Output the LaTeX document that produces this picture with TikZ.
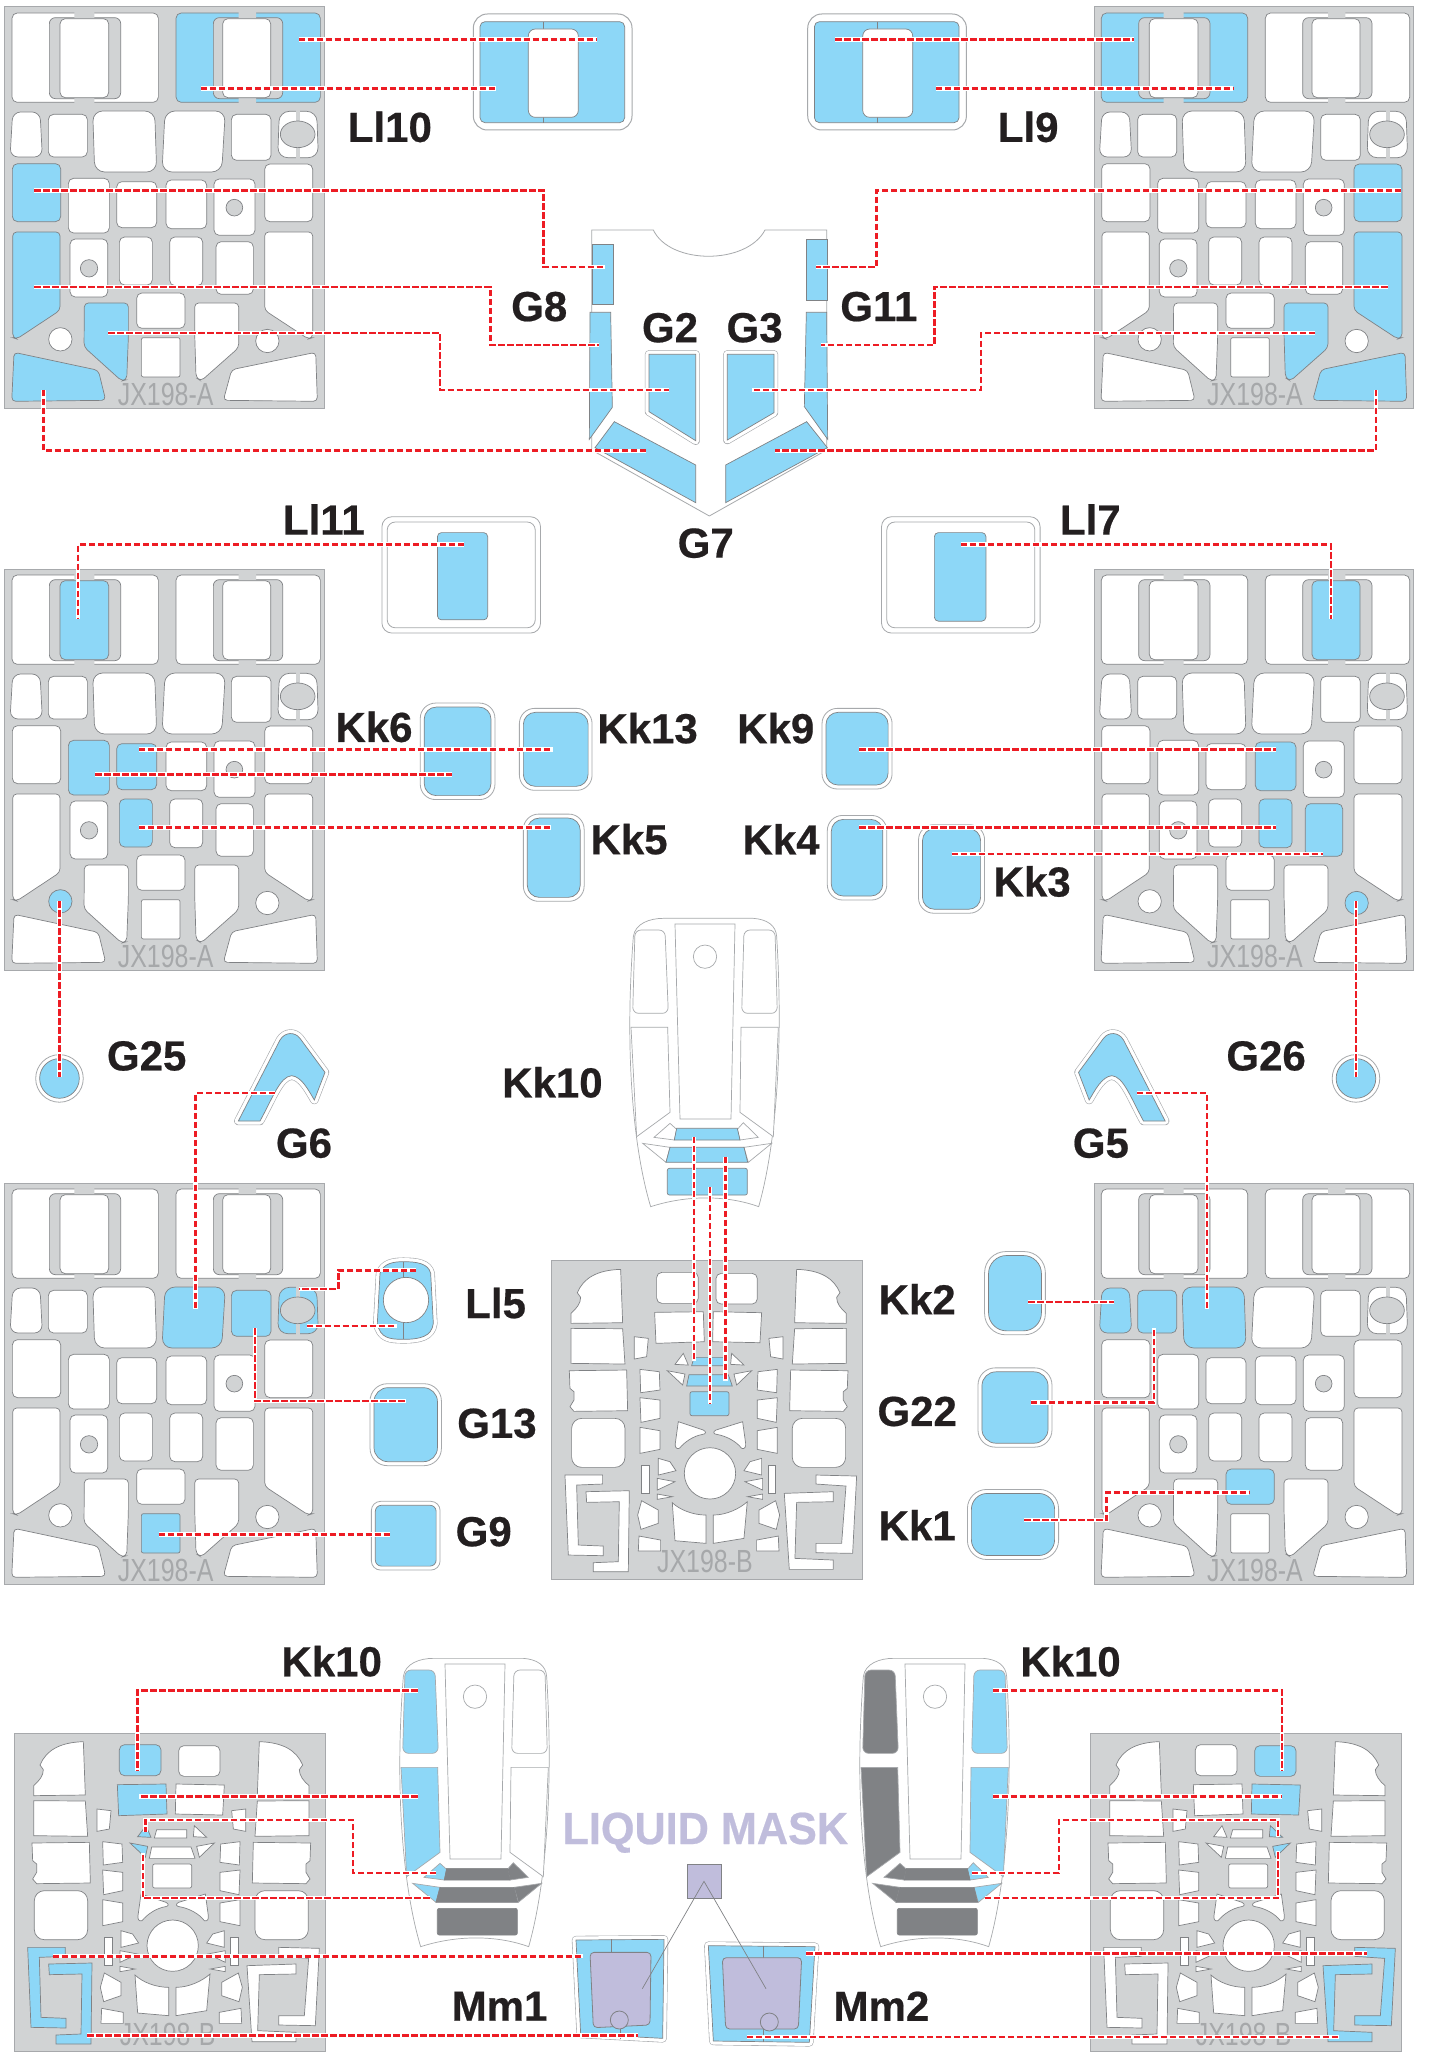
\documentclass[tikz,border=0pt]{standalone}
\usepackage{fontspec}
\setmainfont{Liberation Sans}
\newfontfamily\labfont[BoldFeatures={FakeBold=0.5}]{Liberation Sans}
\definecolor{mblue}{HTML}{8DD7F7}
\definecolor{mplate}{HTML}{D1D3D4}
\definecolor{mwin}{HTML}{808285}
\definecolor{mlight}{HTML}{A7A9AC}
\definecolor{mdark}{HTML}{808285}
\definecolor{mlav}{HTML}{C0BDDC}
\definecolor{mred}{HTML}{ED1C24}
\definecolor{mtext}{HTML}{231F20}
\tikzset{
  win/.style={fill=white,draw=mwin,line width=.35pt},
  bl/.style={fill=mblue},
  dk/.style={fill=mdark},
  plate/.style={fill=mplate,draw=mlight,line width=.5pt},
  gband/.style={fill=mplate,draw=mwin,line width=.35pt},
  cwin/.style={fill=white,draw=mlight,line width=.35pt},
  mout/.style={fill=white,draw=mlight,line width=.4pt},
  min/.style={fill=mblue,draw=mwin,line width=.35pt},
  lav/.style={fill=mlav,draw=mwin,line width=.4pt},
  thinl/.style={draw=mwin,line width=.35pt},
  chalo/.style={draw=white,line width=2.2pt,line join=miter},
  cred/.style={draw=mred,line width=1.25pt,dash pattern=on 3.2pt off 1.3pt,line join=miter},
  lab/.style={font=\labfont\bfseries\fontsize{21}{21}\selectfont,text=mtext,inner sep=0pt},
  jxt/.style={font=\fontsize{16}{16}\selectfont,text=mwin!70,xscale=.78,inner sep=0pt},
  % plate A windows
  wo1/.style={},wo2/.style={},wi1/.style={},wi2/.style={},
  wr1/.style={},wr2/.style={},wr3/.style={},wr4/.style={},wr5/.style={},wr6/.style={},
  ws1/.style={},ws2/.style={},ws3/.style={},ws4/.style={},ws5/.style={},ws6/.style={},
  wt1/.style={},wt2/.style={},wt3/.style={},wt4/.style={},wt5/.style={},wt6/.style={},
  wu1/.style={},wu2/.style={},wb1/.style={},wb2/.style={},wc1/.style={},wc2/.style={},wd1/.style={},wd2/.style={},
  % plate B windows
  bC1/.style={},bC2/.style={},bC3/.style={},bC4/.style={},
  bH1/.style={},bH2/.style={},bH3/.style={},bH4/.style={},
  bJ1/.style={},bJ2/.style={},bJ3/.style={},
  bB5/.style={},bB6/.style={},bB7/.style={},bB8/.style={},
  % canopy windows
  kTL/.style={},kTR/.style={},kLL/.style={},kLR/.style={},kL1/.style={},kR1/.style={},kL2/.style={},kR2/.style={},kP1/.style={},kP2/.style={},kP3/.style={},
}
\newcommand\RW[5]{\draw[win,#1,rounded corners=2.6pt] (#2,#3) rectangle (#4,#5);}
\newcommand\PlateA[4][JX198-A]{%
\begin{scope}[shift={(#2-4.67,#3-6.67)},scale=1/3,#4]
  \draw[plate] (14,20) rectangle (972,1225);
  \RW{wo1}{36}{38}{475}{306}
  \RW{wo2}{528}{38}{961}{306}
  \draw[gband,rounded corners=3pt] (148,52) rectangle (362,295);
  \draw[gband,rounded corners=3pt] (640,52) rectangle (848,295);
  \fill[mplate] (223,30) rectangle (283,60) (223,288) rectangle (283,312) (716,30) rectangle (768,60) (716,288) rectangle (768,312);
  \RW{wi1}{180}{55}{326}{292}
  \RW{wi2}{668}{55}{812}{292}
  \draw[win,wr1,rounded corners=4pt] (38,335)--(120,335)--(127,470)--(30,470)--cycle;
  \RW{wr2}{145}{342}{262}{470}
  \draw[win,wr3,rounded corners=5pt] (278,332)--(464,332)--(470,515)--(284,515)--cycle;
  \draw[win,wr4,rounded corners=5pt] (495,332)--(676,332)--(665,515)--(486,515)--cycle;
  \RW{wr5}{694}{342}{813}{480}
  \draw[win,wr6,rounded corners=5pt] (838,333)--(950,333)--(955,472)--(833,472)--cycle;
  \fill[mplate] (889,328) rectangle (901,478);
  \draw[gband] (893,402) ellipse [x radius=52,y radius=40];
  \RW{ws1}{37}{490}{182}{664}
  \RW{ws2}{205}{534}{328}{698}
  \RW{ws3}{350}{544}{470}{682}
  \RW{ws4}{498}{539}{620}{685}
  \RW{ws5}{642}{536}{765}{705}
  \draw[gband] (703,622) circle [radius=25];
  \RW{ws6}{794}{491}{938}{664}
  \draw[win,wt1,rounded corners=2pt] (38,695)--(180,695)--(180,930)--(50,1016)--(38,1012)--cycle;
  \RW{wt2}{210}{716}{323}{890}
  \draw[gband] (267,804) circle [radius=26];
  \RW{wt3}{358}{710}{457}{854}
  \RW{wt4}{509}{710}{608}{856}
  \RW{wt5}{648}{724}{760}{882}
  \draw[win,wt6,rounded corners=2pt] (794,695)--(938,695)--(938,1012)--(925,1016)--(794,930)--cycle;
  \RW{wu1}{410}{878}{555}{984}
  \draw[win,wu2,rounded corners=1pt] (424,1012) rectangle (540,1130);
  \draw[win,wb1,rounded corners=2pt] (253,908)--(385,908)--(385,1010)--(380,1138)--(365,1142)--(252,1040)--cycle;
  \draw[win,wb2,rounded corners=2pt] (584,908)--(716,908)--(716,1042)--(603,1142)--(588,1132)--(584,1000)--cycle;
  \draw[win,wc1] (181,1017) circle [radius=35];
  \draw[win,wc2] (802,1022) circle [radius=35];
  \draw[win,wd1,rounded corners=2pt] (42,1056)--(295,1110)--(317,1200)--(35,1203)--cycle;
  \draw[win,wd2,rounded corners=2pt] (947,1056)--(695,1108)--(670,1200)--(952,1203)--cycle;
  \node[jxt] at (497,1181) {#1};
\end{scope}}
\newcommand\BOuter{%
  \draw[win] (93,250)--(93,220) .. controls (110,205) and (122,190) .. (122,172) -- (112,158) .. controls (130,115) and (170,90) .. (242,88) -- (248,248) -- cycle;
  \draw[win] (93,265)--(248,266)--(255,372)--(93,370)--cycle;
  \draw[win] (88,392)--(260,390)--(263,512)--(102,514)--(90,500)--(102,480)--(102,455)--(90,445)--cycle;
  \draw[win,rounded corners=5pt] (255,535)--(95,535)--(95,682)--(255,682)--cycle;
  \draw[win] (283,290)--(325,295)--(320,350)--(283,357)--cycle;
  \draw[win] (300,388)--(358,395)--(360,450)--(302,458)--cycle;
  \draw[win] (300,473)--(360,480)--(360,535)--(303,547)--cycle;
  \draw[win] (300,562)--(360,572)--(360,628)--(300,640)--cycle;
  \draw[win] (305,675)--(328,675)--(328,760)--(305,760)--cycle;
  \draw[win] (305,782)--(355,810)--(355,850)--(303,868)--(293,825)--cycle;
  \draw[win] (297,888)--(362,900)--(362,933)--(295,933)--cycle;
}
\newcommand\BInner{%
  \draw[win] (355,655)--(390,665)--(408,692)--(355,705)--cycle;
  \draw[win] (352,715)--(405,725)--(352,750)--cycle;
  \draw[win] (352,762)--(397,770)--(352,778)--cycle;
}
\newcommand\PlateB[4][JX198-B]{%
\begin{scope}[shift={(#2-11.33,#3-20.67)},scale=1/3,#4]
  \draw[plate] (34,62) rectangle (968,1018);
  \BOuter\BInner
  \begin{scope}[shift={(1012,0)},xscale=-1]\BOuter\end{scope}
  \begin{scope}[shift={(1020,0)},xscale=-1]\BInner\end{scope}
  \RW{bC1}{350}{97}{475}{190}
  \RW{bC2}{528}{100}{652}{192}
  \draw[win,bC3] (344,217)--(490,215)--(493,305)--(348,310)--cycle;
  \draw[win,bC4] (520,215)--(665,218)--(660,308)--(518,305)--cycle;
  \draw[win,bH1] (430,340)--(445,375)--(405,373)--cycle;
  \draw[win,bH2] (575,340)--(612,375)--(572,373)--cycle;
  \draw[win,bH3] (382,392)--(435,402)--(428,435)--cycle;
  \draw[win,bH4] (635,392)--(582,402)--(590,435)--cycle;
  \draw[win,bJ1] (462,352)--(552,352)--(552,377)--(455,377)--cycle;
  \draw[win,bJ2] (447,404)--(565,404)--(577,438)--(440,438)--cycle;
  \draw[win,bJ3,rounded corners=1pt] (450,455) rectangle (567,527);
  \draw[win] (415,545) -- (490,570) .. controls (500,575) and (498,582) .. (488,583) .. controls (460,588) and (435,605) .. (418,625) .. controls (408,628) and (405,620) .. (406,610) -- cycle;
  \draw[win] (608,545) -- (528,570) .. controls (518,575) and (520,582) .. (530,583) .. controls (560,588) and (590,605) .. (605,625) .. controls (615,628) and (618,620) .. (617,610) -- cycle;
  \draw[win] (510,700) circle [radius=77];
  \draw[win] (397,788) .. controls (420,810) and (460,825) .. (498,825) -- (498,910) -- (405,902) -- cycle;
  \draw[win] (622,785) .. controls (600,805) and (560,825) .. (520,825) -- (520,910) -- (612,895) -- cycle;
  \draw[win,bB5] (75,705)--(188,705)--(188,732)--(110,735)--(115,915)--(190,918)--(190,947)--(85,945)--cycle;
  \draw[win,bB6] (138,755)--(268,752)--(265,995)--(160,995)--(160,968)--(235,965)--(238,785)--(140,787)--cycle;
  \draw[win,bB7] (828,705)--(950,708)--(938,940)--(828,938)--(828,910)--(905,910)--(918,738)--(828,732)--cycle;
  \draw[win,bB8] (733,760)--(880,755)--(880,785)--(770,787)--(765,955)--(880,960)--(880,988)--(748,988)--cycle;
  \node[jxt] at (495,965) {#1};
\end{scope}}
\newcommand\Canopy[3]{%
\begin{scope}[shift={(#1,#2)},scale=1/3,#3]
  \draw[cwin] (40,80) .. controls (45,40) and (90,25) .. (130,25) -- (400,25) .. controls (440,28) and (468,45) .. (470,80) .. controls (490,400) and (470,700) .. (416,890) .. controls (320,855) and (200,855) .. (92,890) .. controls (35,700) and (15,400) .. (40,80) -- cycle;
  \draw[cwin] (165,42)--(345,42)--(333,627)--(180,627)--cycle;
  \draw[cwin] (255,140) circle [radius=35];
  \draw[cwin,kTL,rounded corners=3pt] (45,60)--(135,60)--(145,310)--(38,310)--cycle;
  \draw[cwin,kTR,rounded corners=3pt] (372,60)--(465,60)--(472,310)--(365,310)--cycle;
  \draw[cwin,kLL] (33,352)--(143,352)--(150,607)--(50,680)--cycle;
  \draw[cwin,kLR] (363,352)--(475,352)--(460,680)--(360,607)--cycle;
  \draw[cwin,kL1] (150,640)--(170,658)--(163,690)--(102,682)--cycle;
  \draw[cwin,kR1] (370,638)--(415,682)--(360,690)--(352,658)--cycle;
  \draw[cwin,kL2] (68,700)--(150,712)--(138,757)--cycle;
  \draw[cwin,kR2] (455,700)--(372,712)--(385,757)--cycle;
  \draw[cwin,draw=mwin,kP1] (170,655)--(352,655)--(360,690)--(163,690)--cycle;
  \draw[cwin,draw=mwin,kP2] (150,712)--(372,712)--(383,757)--(138,757)--cycle;
  \draw[cwin,draw=mwin,kP3,rounded corners=1pt] (142,775) rectangle (382,855);
\end{scope}}
\newcommand\Mask[5]{\draw[mout,rounded corners=#5pt+1.6pt] (#1-3,#2-3) rectangle (#3+3,#4+3);\draw[min,rounded corners=#5pt] (#1,#2) rectangle (#3,#4);}
\newcommand\Halo[1]{\path[draw=mlight,line width=4.2pt,line join=round] #1;\path[draw=white,line width=3.6pt,line join=round] #1;\path[min] #1;}
\newcommand\CTwo[3]{\coordinate (#1a) at (#2);\coordinate (#1b) at (#3);\draw[chalo] (#1a)--(#1b);\draw[cred] (#1a)--(#1b);}
\newcommand\CThree[4]{\coordinate (#1a) at (#2);\coordinate (#1b) at (#3);\coordinate (#1c) at (#4);\draw[chalo] (#1a)--(#1b)--(#1c);\draw[cred] (#1a)--(#1b)--(#1c);}
\newcommand\CFour[5]{\coordinate (#1a) at (#2);\coordinate (#1b) at (#3);\coordinate (#1c) at (#4);\coordinate (#1d) at (#5);\draw[chalo] (#1a)--(#1b)--(#1c)--(#1d);\draw[cred] (#1a)--(#1b)--(#1c)--(#1d);}
\newcommand\CFive[6]{\coordinate (#1a) at (#2);\coordinate (#1b) at (#3);\coordinate (#1c) at (#4);\coordinate (#1d) at (#5);\coordinate (#1e) at (#6);\draw[chalo] (#1a)--(#1b)--(#1c)--(#1d)--(#1e);\draw[cred] (#1a)--(#1b)--(#1c)--(#1d)--(#1e);}
\newcommand\LIpart[1]{%
\begin{scope}[shift={(#1,0)},scale=1/3]
  \draw[mout,line width=.5pt,rounded corners=7pt] (40,42) rectangle (516,390);
  \draw[min,rounded corners=2.5pt] (60,65) rectangle (494,368);
  \draw[thinl] (250,65)--(250,87) (250,352)--(250,368);
  \draw[cwin,draw=mwin,rounded corners=3.5pt] (205,87) rectangle (355,352);
\end{scope}}
\begin{document}
\begin{tikzpicture}[x=0.5pt,y=-0.5pt]
\useasboundingbox (0,0) rectangle (1430,2072);
\fill[white] (0,0) rectangle (1430,2072);

% --- JX198-A plates
\PlateA{4.7}{7}{wo2/.style=bl,ws1/.style=bl,wt1/.style=bl,wb1/.style=bl,wd1/.style=bl}
\PlateA{1094}{7}{wo1/.style=bl,ws6/.style=bl,wt6/.style=bl,wb2/.style=bl,wd2/.style=bl}
\PlateA{4.7}{569}{wi1/.style=bl,ws2/.style=bl,ws3/.style=bl,wt3/.style=bl,wc1/.style=bl}
\PlateA{1094}{569}{wi2/.style=bl,ws4/.style=bl,wt4/.style=bl,wt5/.style=bl,wc2/.style=bl}
\PlateA{4.7}{1183}{wr4/.style=bl,wr5/.style=bl,wr6/.style=bl,wu2/.style=bl}
\PlateA{1094}{1183}{wr1/.style=bl,wr2/.style=bl,wr3/.style=bl,wu1/.style=bl}

% --- JX198-B plates
\PlateB{551.3}{1260.7}{bJ1/.style=bl,bJ2/.style=bl,bJ3/.style=bl}
\PlateB{14}{1733}{bC1/.style=bl,bC3/.style=bl,bH1/.style=bl,bH3/.style=bl,bB5/.style=bl,bB6/.style=bl}
\PlateB{1090}{1733}{bC2/.style=bl,bC4/.style=bl,bH2/.style=bl,bH4/.style=bl,bB7/.style=bl,bB8/.style=bl}

% --- canopies
\Canopy{620}{910}{kP1/.style=bl,kP2/.style=bl,kP3/.style=bl}
\Canopy{390}{1650}{kTL/.style=bl,kLL/.style=bl,kL1/.style=bl,kL2/.style=bl,kR1/.style=dk,kR2/.style=dk,kP1/.style=dk,kP2/.style=dk,kP3/.style=dk}
\Canopy{850}{1650}{kTR/.style=bl,kLR/.style=bl,kR1/.style=bl,kR2/.style=bl,kTL/.style=dk,kLL/.style=dk,kL1/.style=dk,kL2/.style=dk,kP1/.style=dk,kP2/.style=dk,kP3/.style=dk}

% --- top parts
\LIpart{460}
\LIpart{794.4}

% --- G body
\begin{scope}[shift={(580,220)},scale=1/3]
  \draw[cwin,line width=.4pt] (35,30)--(220,30) .. controls (270,135) and (500,135) .. (555,30)--(740,30)--(740,690)--(388,888)--(35,690)--cycle;
  \draw[min] (37,72) rectangle (101,253);
  \draw[min] (30,277)--(92,277)--(97,562)--(28,658)--cycle;
  \draw[min] (679,58) rectangle (743,240);
  \draw[min] (679,277)--(740,277)--(743,658)--(673,560)--cycle;
  \Halo{(207,403)--(347,403)--(347,662)--(207,575)--cycle}
  \Halo{(442,403)--(582,403)--(582,578)--(442,660)--cycle}
  \draw[min] (103,605)--(347,735)--(347,848)--(45,683)--cycle;
  \draw[min] (680,605)--(437,735)--(437,848)--(742,683)--cycle;
\end{scope}

% --- G6 / G5
\begin{scope}[shift={(220,1010)},scale=1/3]
  \Halo{(55,333)--(120,333) .. controls (160,260) and (180,200) .. (215,197) .. controls (245,200) and (265,240) .. (283,270)--(315,187)--(240,85) .. controls (225,65) and (195,65) .. (180,90)--cycle}
\end{scope}
\begin{scope}[shift={(1183.5,1010)},xscale=-1/3,yscale=1/3]
  \Halo{(55,333)--(120,333) .. controls (160,260) and (180,200) .. (215,197) .. controls (245,200) and (265,240) .. (283,270)--(315,187)--(240,85) .. controls (225,65) and (195,65) .. (180,90)--cycle}
\end{scope}

% --- LI5
\begin{scope}[shift={(360,1240)},scale=1/3]
  \Halo{(60,100) .. controls (70,70) and (100,65) .. (130,65) .. controls (170,65) and (205,70) .. (212,100)--(220,250) .. controls (215,290) and (180,298) .. (130,298) .. controls (90,298) and (60,295) .. (52,250)--cycle}
  \draw[thinl] (130,65)--(130,113) (130,248)--(130,298);
  \draw[win] (138,180) circle [radius=68];
\end{scope}

% --- Mm1, Mm2, liquid mask
\begin{scope}[shift={(540,1800)},scale=1/3]
  \Halo{(108,420)--(372,418)--(368,715)--(122,702)--cycle}
  \draw[thinl] (214,418)--(214,457) (240,688)--(240,716);
  \draw[lav,rounded corners=2pt] (150,457)--(333,457)--(330,675)--(160,683)--cycle;
  \draw[lav] (238,660) circle [radius=27];
  \Halo{(505,437)--(825,440)--(808,727)--(520,723)--cycle}
  \draw[thinl] (671,437)--(671,473) (671,687)--(671,725);
  \draw[lav,rounded corners=2pt] (547,473)--(785,473)--(775,687)--(557,687)--cycle;
  \draw[lav] (688,666) circle [radius=27];
  \draw[lav] (443,194) rectangle (543,294);
  \coordinate (apex) at (492,244);
  \coordinate (mm1end) at (307,566);
  \coordinate (mm2end) at (678,566);
  \draw[thinl] (mm1end)--(apex)--(mm2end);
  \node[anchor=base,font=\labfont\bfseries\fontsize{22.5}{22.5}\selectfont,text=mlav,xscale=.96,inner sep=0pt] (liquid) at (496,132) {LIQUID MASK};
\end{scope}

% --- parts and connectors in the 1082-wide coordinates
\begin{scope}[scale=1.3216]
  % LI11, LI7
  \draw[mout,rounded corners=5pt] (289,391) rectangle (409,479);
  \draw[mout,rounded corners=4pt] (293,395) rectangle (405,475);
  \draw[min,rounded corners=2pt] (331,403) rectangle (369,469);
  \draw[mout,rounded corners=5pt] (667,391) rectangle (787,479);
  \draw[mout,rounded corners=4pt] (671,395) rectangle (783,475);
  \draw[min,rounded corners=2pt] (707,403) rectangle (746,470);
  % small masks
  \Mask{321}{535}{371.5}{602}{6}
  \Mask{396}{539}{445}{595}{6}
  \Mask{399}{619}{439}{679}{6}
  \Mask{625}{539}{672}{594}{6}
  \Mask{629}{620}{668}{678}{6}
  \Mask{698}{627}{742}{688}{6}
  \Mask{748}{950}{788}{1007}{9}
  \Mask{743}{1038}{793}{1092}{7}
  \Mask{735}{1130}{798}{1177}{8}
  \Mask{283}{1050}{331}{1106}{7}
  \Mask{284}{1139}{330}{1185}{3}
  % G25, G26
  \draw[mout] (45,816) circle [radius=18];
  \draw[min] (45,816) circle [radius=15];
  \draw[mout] (1026,816) circle [radius=18];
  \draw[min] (1026,816) circle [radius=15];

  % connectors
  \CTwo{ca}{226,30}{452,30}
  \CTwo{cb}{152,67}{375,67}
  \CTwo{cc}{632,30}{858,30}
  \CTwo{cd}{708,67}{933,67}
  \CFour{ce}{26,144}{411,144}{411,202}{458,202}
  \CFour{cf}{1060,144}{663,144}{663,202}{617,202}
  \CFour{cg}{26,217}{371,217}{371,261}{453,261}
  \CFour{ch}{1050,217}{707,217}{707,261}{621,261}
  \CFour{ci}{82,252}{333,252}{333,295}{506,295}
  \CFour{cj}{995,252}{742,252}{742,295}{569,295}
  \CThree{ck}{33,295}{33,341}{489,341}
  \CThree{cl}{1041,295}{1041,341}{586,341}
  \CThree{cm}{351,412}{59,412}{59,468}
  \CThree{cn}{727,412}{1007,412}{1007,468}
  \CTwo{co}{105,567}{418,567}
  \CTwo{cp}{72,586}{342,586}
  \CTwo{cq}{105,626}{417,626}
  \CTwo{cr}{650,567}{965,567}
  \CTwo{cs}{650,626}{965,626}
  \CTwo{ct}{720,646}{1001,646}
  \CTwo{cu}{45,682}{45,815}
  \CTwo{cv}{1026,682}{1026,815}
  \CThree{cw}{208,827}{148,827}{148,990}
  \CThree{cx}{860,827}{913,827}{913,990}
  \CFour{cy}{315,961}{256,961}{256,975}{226,975}
  \CTwo{cz}{232,1003}{300,1003}
  \CThree{da}{193,1005}{193,1060}{307,1060}
  \CTwo{db}{120,1161}{295,1161}
  \CTwo{dc}{525,860}{525,1030}
  \CTwo{dd}{537,898}{537,1062}
  \CTwo{de}{549,875}{549,1045}
  \CTwo{df}{778,985}{843,985}
  \CThree{dg}{780,1061}{873,1061}{873,1005}
  \CFour{dh}{775,1150}{837,1150}{837,1129}{945,1129}
  \CThree{di}{316,1279}{104,1279}{104,1340}
  \CTwo{dj}{316,1359}{105,1359}
  \CFive{dk}{330,1417}{267,1417}{267,1377}{110,1377}{110,1386}
  \CThree{dl}{325,1436}{108,1436}{108,1402}
  \CTwo{dm}{40,1480}{441,1480}
  \CTwo{dn}{66,1540}{483,1540}
  \CThree{do}{751,1279}{970,1279}{970,1340}
  \CTwo{dp}{751,1359}{970,1359}
  \CFive{dq}{735,1417}{801,1417}{801,1377}{967,1377}{967,1390}
  \CThree{dr}{745,1436}{967,1436}{967,1400}
  \CTwo{ds}{610,1478}{1034,1478}
  \CTwo{dt}{565,1541}{1013,1541}

  % labels
  \node[lab] (n1) at (295,96) {Ll10};
  \node[lab] (n2) at (778,96) {Ll9};
  \node[lab] (n3) at (408,232) {G8};
  \node[lab] (n4) at (507,248) {G2};
  \node[lab] (n5) at (571,248) {G3};
  \node[lab] (n6) at (665,232) {G11};
  \node[lab] (n7) at (534,411) {G7};
  \node[lab] (n8) at (245,393) {Ll11};
  \node[lab] (n9) at (825,393) {Ll7};
  \node[lab] (n10) at (283,550) {Kk6};
  \node[lab] (n11) at (490,551) {Kk13};
  \node[lab] (n12) at (587,551) {Kk9};
  \node[lab] (n13) at (476,635) {Kk5};
  \node[lab] (n14) at (591,635) {Kk4};
  \node[lab] (n15) at (781,667) {Kk3};
  \node[lab] (n16) at (111,799) {G25};
  \node[lab] (n17) at (958,799) {G26};
  \node[lab] (n18) at (230,865) {G6};
  \node[lab] (n19) at (833,865) {G5};
  \node[lab] (n20) at (418,819) {Kk10};
  \node[lab] (n21) at (375,986) {Ll5};
  \node[lab] (n22) at (376,1077) {G13};
  \node[lab] (n23) at (366,1159) {G9};
  \node[lab] (n24) at (694,983) {Kk2};
  \node[lab] (n25) at (694,1068) {G22};
  \node[lab] (n26) at (694,1154) {Kk1};
  \node[lab] (n27) at (251,1257) {Kk10};
  \node[lab] (n28) at (810,1257) {Kk10};
  \node[lab] (n29) at (378,1518) {Mm1};
  \node[lab] (n30) at (667,1518) {Mm2};
\end{scope}
\end{tikzpicture}
\end{document}
